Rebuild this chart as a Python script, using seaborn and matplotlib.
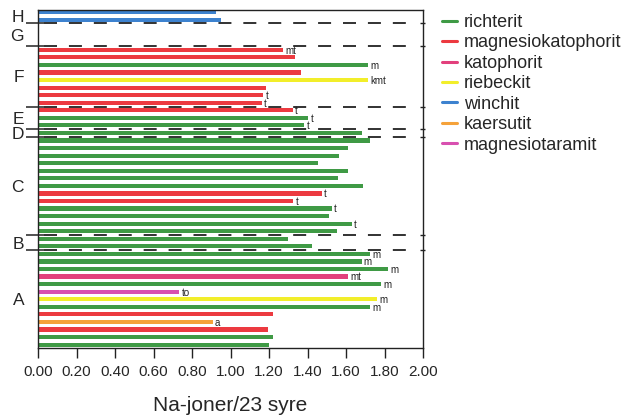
import numpy as np
import pandas as pd
import matplotlib
matplotlib.use("Agg")
import matplotlib.pyplot as plt
import matplotlib.transforms as mtransforms
from matplotlib.lines import Line2D
import seaborn as sns

# ---- data (top to bottom) ----
groups = ["H", "H",
          "G", "G", "G",
          "F", "F", "F", "F", "F", "F", "F", "F",
          "E", "E", "E",
          "D",
          "C", "C", "C", "C", "C", "C", "C", "C", "C", "C", "C", "C", "C",
          "B", "B",
          "A", "A", "A", "A", "A", "A", "A", "A", "A", "A", "A", "A", "A"]
minerals = ["winchit", "winchit",
            None, None, None,
            "magnesiokatophorit", "magnesiokatophorit", "richterit", "magnesiokatophorit",
            "riebeckit", "magnesiokatophorit", "magnesiokatophorit", "magnesiokatophorit",
            "magnesiokatophorit", "richterit", "richterit",
            "richterit",
            "richterit", "richterit", "richterit", "richterit", "richterit", "richterit", "richterit",
            "magnesiokatophorit", "magnesiokatophorit", "richterit", "richterit", "richterit", "richterit",
            "richterit", "richterit",
            "richterit", "richterit", "richterit", "katophorit", "richterit", "magnesiotaramit",
            "riebeckit", "richterit", "magnesiokatophorit", "kaersutit", "magnesiokatophorit",
            "richterit", "richterit"]
na_values = [0.925, 0.949,
             np.nan, np.nan, np.nan,
             1.271, 1.335, 1.713, 1.366, 1.716, 1.183, 1.171, 1.162,
             1.323, 1.404, 1.383,
             1.685,
             1.725, 1.612, 1.564, 1.453, 1.609, 1.560, 1.687, 1.474, 1.326, 1.525, 1.513, 1.630, 1.552,
             1.297, 1.425,
             1.725, 1.681, 1.820, 1.612, 1.782, 0.734, 1.759, 1.725, 1.219, 0.907, 1.193, 1.222, 1.198]
bar_labels = ["", "",
              "", "", "",
              "mt", "", "m", "", "kmt", "", "t", "t",
              "t", "t", "t",
              "",
              "", "", "", "", "", "", "", "t", "t", "t", "", "t", "",
              "", "",
              "m", "m", "m", "mt", "m", "to", "m", "m", "", "a", "", "", ""]
group_letters = ["H", "G", "F", "E", "D", "C", "B", "A"]
legend_order = ["richterit", "magnesiokatophorit", "katophorit", "riebeckit",
                "winchit", "kaersutit", "magnesiotaramit"]
palette = {"richterit": "#3f9a45", "magnesiokatophorit": "#ec3a40",
           "katophorit": "#e2407c", "riebeckit": "#f2ee2a", "winchit": "#3d82cf",
           "kaersutit": "#f5a23a", "magnesiotaramit": "#d850b0"}
x_ticks = [0.0, 0.2, 0.4, 0.6, 0.8, 1.0, 1.2, 1.4, 1.6, 1.8, 2.0]

slots = [f"s{i:02d}" for i in range(len(na_values))]
df = pd.DataFrame({"slot": slots, "value": na_values,
                   "mineral": minerals, "group": groups})

sns.set_style("white")
plt.rcParams["font.family"] = ["Liberation Sans", "DejaVu Sans"]

fig = plt.figure(figsize=(6.3, 4.16), dpi=100)
ax = fig.add_axes([38 / 630, 1 - 348 / 416, 385 / 630, 338 / 416])

sns.barplot(data=df.dropna(), x="value", y="slot", hue="mineral", order=slots,
            hue_order=legend_order, palette=palette, dodge=False, orient="h",
            width=0.55, saturation=1, errorbar=None, legend=False, ax=ax,
            linewidth=0)

n = len(slots)
ax.set_xlim(0, 2.0)
ax.set_ylim(n - 1 + 0.45, -0.27)

# value labels
for i, (v, lab) in enumerate(zip(na_values, bar_labels)):
    if lab:
        ax.text(v + 0.012, i + 0.12, lab, fontsize=7, va="center", ha="left",
                color="#222222")

# group boundaries
bounds = []
centers = []
start = 0
for i in range(1, n + 1):
    if i == n or groups[i] != groups[i - 1]:
        centers.append((start + i - 1) / 2)
        if i < n:
            bounds.append(i - 0.5)
        start = i

trans = mtransforms.blended_transform_factory(ax.transAxes, ax.transData)
for b in bounds:
    ax.plot([-0.03, 0.015], [b, b], color="#222222", lw=1.1, transform=trans,
            clip_on=False, solid_capstyle="butt")
    ax.plot([0.015, 0.955], [b, b], color="#222222", lw=1.3, transform=trans,
            clip_on=False, linestyle=(0, (7.2, 6.6)))
    ax.plot([0.992, 1.006], [b, b], color="#222222", lw=1.0, transform=trans,
            clip_on=False, solid_capstyle="butt")

ax.set_yticks(centers)
ax.set_yticklabels(group_letters, fontsize=12.5)
ax.tick_params(axis="y", length=0, pad=10)
ax.set_ylabel("")

ax.set_xticks(x_ticks)
ax.set_xticklabels([f"{t:.2f}" for t in x_ticks],
                   fontfamily=["Liberation Sans Narrow", "Liberation Sans"],
                   fontsize=11)
ax.tick_params(axis="x", direction="out", length=7.5, width=1.0, color="#222222",
               pad=5, bottom=True)
ax.set_xlabel("Na-joner/23 syre", fontsize=15, labelpad=12)

for s in ax.spines.values():
    s.set_visible(True)
    s.set_color("#222222")
    s.set_linewidth(1.0)

handles = [Line2D([0], [0], color=palette[m], lw=2.2) for m in legend_order]
fig.legend(handles, legend_order, loc="upper left", bbox_to_anchor=(442 / 630, 1 - 14 / 416),
           frameon=False, fontsize=13, handlelength=0.85, handletextpad=0.35,
           labelspacing=0.19, borderaxespad=0, borderpad=0)

fig.savefig("out.png", dpi=100)
